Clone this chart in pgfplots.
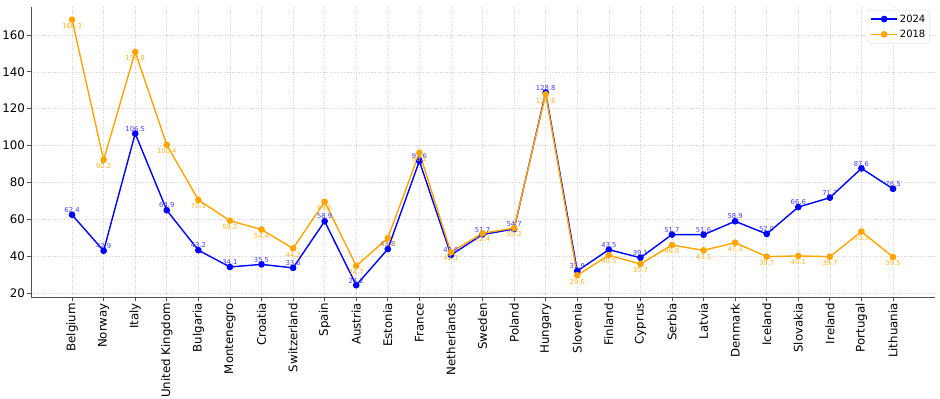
\documentclass[border=0pt]{standalone}
\usepackage{fontspec}
\setmainfont{DejaVu Sans}
\usepackage{pgfplots}
\pgfplotsset{compat=1.18}
\definecolor{cblue}{RGB}{0,0,255}
\definecolor{corange}{RGB}{255,165,0}
\definecolor{spine}{RGB}{80,80,80}
\begin{document}
\begin{tikzpicture}
\useasboundingbox (-31bp,-102bp) rectangle (909bp,297bp);
\begin{axis}[
  at={(0,0)}, anchor=south west,
  scale only axis, width=904bp, height=290bp,
  xmin=-1.3, xmax=27.33, ymin=17.8, ymax=175.2,
  axis lines=left, axis line style={spine, line width=0.9bp, -},
  xtick={0,...,26},
  xticklabels={Belgium,Norway,Italy,United Kingdom,Bulgaria,Montenegro,Croatia,Switzerland,Spain,Austria,Estonia,France,Netherlands,Sweden,Poland,Hungary,Slovenia,Finland,Cyprus,Serbia,Latvia,Denmark,Iceland,Slovakia,Ireland,Portugal,Lithuania},
  ytick={20,40,...,160},
  x tick label style={rotate=90, anchor=east, font=\fontsize{11.8bp}{13bp}\selectfont, inner sep=2bp},
  y tick label style={font=\fontsize{11.8bp}{13bp}\selectfont, inner sep=2bp},
  /pgf/number format/assume math mode=true,
  tick align=outside, tick pos=left,
  major tick length=4bp,
  tick style={spine, line width=0.8bp},
  grid=major,
  major grid style={gray!35, dotted, line width=0.6bp},
  legend style={at={(0.9945,0.99)}, anchor=north east, font=\fontsize{10bp}{12bp}\selectfont, draw=gray!30, rounded corners=2bp, inner sep=2.5bp, row sep=2.4bp},
  legend image code/.code={\draw[mark repeat=2, mark phase=2, line width=1.4bp, #1] plot coordinates {(0bp,0bp) (13bp,0bp) (26bp,0bp)};},
  legend cell align=left,
  every axis plot/.append style={line width=1.4bp, mark=*, mark size=2.6bp},
  nodes near coords={\pgfmathprintnumber[fixed,fixed zerofill,precision=1]{\pgfplotspointmeta}},
]
\addplot[cblue, line width=1.4bp, mark options={fill=cblue},
  every node near coord/.append style={font=\fontsize{6.8bp}{8bp}\selectfont, text=cblue!75, anchor=south, inner sep=1bp, yshift=0.5bp}]
coordinates {
(0,62.4) (1,42.9) (2,106.5) (3,64.9) (4,43.2) (5,34.1) (6,35.5) (7,33.6) (8,58.9) (9,24.2)
(10,43.8) (11,91.6) (12,40.6) (13,51.7) (14,54.7) (15,128.8) (16,31.9) (17,43.5) (18,39.1)
(19,51.7) (20,51.6) (21,58.9) (22,52.0) (23,66.6) (24,71.7) (25,87.6) (26,76.5)};
\addlegendentry{2024}
\addplot[corange, line width=1.4bp, mark options={fill=corange},
  every node near coord/.append style={font=\fontsize{6.8bp}{8bp}\selectfont, text=corange!85, anchor=north, inner sep=1bp, yshift=-2bp}]
coordinates {
(0,168.3) (1,92.2) (2,150.8) (3,100.4) (4,70.5) (5,59.2) (6,54.4) (7,44.2) (8,69.5) (9,34.7)
(10,49.8) (11,96.1) (12,42.1) (13,52.4) (14,55.2) (15,127.8) (16,29.6) (17,40.5) (18,35.7)
(19,46.0) (20,43.1) (21,47.3) (22,39.7) (23,40.1) (24,39.7) (25,53.3) (26,39.5)};
\addlegendentry{2018}
\end{axis}
\end{tikzpicture}
\end{document}
